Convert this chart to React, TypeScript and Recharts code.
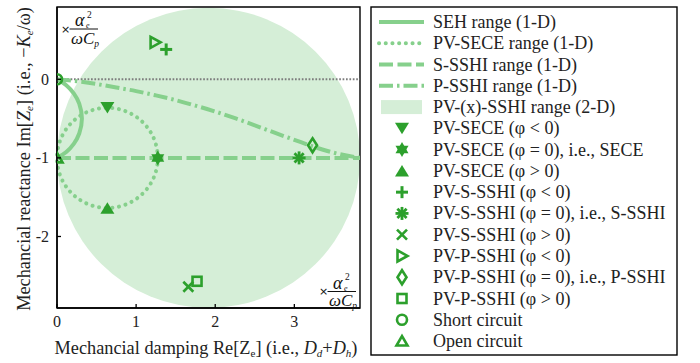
import React from 'react';
import { ComposedChart, XAxis, YAxis, Line, Scatter, ReferenceArea } from 'recharts';

const FONT = "'Liberation Serif','Times New Roman',serif";
const LINE_GREEN = '#86d08c';
const MARK_GREEN = '#2ca02c';
const FILL_GREEN = '#d5eed7';

const xTicks = [0, 1, 2, 3];
const yTicks = [0, -1, -2];
const xDomain: [number, number] = [0, 3.83];
const yDomain: [number, number] = [-2.91, 0.92];

// bounding boxes [x1, x2, y1, y2] of the circular ranges
const pvxBox = [0, 3.83, -2.91, 0.91];
const seceBox = [0, 1.274, -1.637, -0.363];
const frameBox = [0, 3.83, -2.91, 0.92];

const zeroLine = [{ x: 0, y: 0 }, { x: 3.83, y: 0 }];
const sehRange = [
  { x: 0, y: 0 }, { x: 0.117, y: -0.075 }, { x: 0.214, y: -0.182 }, { x: 0.281, y: -0.31 },
  { x: 0.315, y: -0.5 }, { x: 0.281, y: -0.69 }, { x: 0.214, y: -0.818 }, { x: 0.117, y: -0.925 },
  { x: 0, y: -1 },
];
const sSshiRange = [{ x: 0, y: -1 }, { x: 3.83, y: -1 }];
const pSshiRange = [
  { x: 0, y: 0 }, { x: 0.25, y: -0.025 }, { x: 0.5, y: -0.06 }, { x: 0.75, y: -0.105 },
  { x: 1.0, y: -0.15 }, { x: 1.25, y: -0.205 }, { x: 1.5, y: -0.265 }, { x: 1.75, y: -0.335 },
  { x: 2.0, y: -0.41 }, { x: 2.25, y: -0.495 }, { x: 2.5, y: -0.585 }, { x: 2.75, y: -0.68 },
  { x: 3.0, y: -0.77 }, { x: 3.25, y: -0.86 }, { x: 3.5, y: -0.935 }, { x: 3.83, y: -1 },
];

const pvSeceNeg = [{ x: 0.637, y: -0.36 }];
const pvSeceZero = [{ x: 1.274, y: -1 }];
const pvSecePos = [{ x: 0.637, y: -1.64 }];
const pvSSshiNeg = [{ x: 1.38, y: 0.38 }];
const pvSSshiZero = [{ x: 3.06, y: -1 }];
const pvSSshiPos = [{ x: 1.66, y: -2.64 }];
const pvPSshiNeg = [{ x: 1.24, y: 0.47 }];
const pvPSshiZero = [{ x: 3.23, y: -0.84 }];
const pvPSshiPos = [{ x: 1.77, y: -2.57 }];
const shortCircuit = [{ x: 0, y: 0 }];
const openCircuit = [{ x: 0, y: -1 }];

const legendLabels = [
  'SEH range (1-D)',
  'PV-SECE range (1-D)',
  'S-SSHI range (1-D)',
  'P-SSHI range (1-D)',
  'PV-(x)-SSHI range (2-D)',
  'PV-SECE (φ < 0)',
  'PV-SECE (φ = 0), i.e., SECE',
  'PV-SECE (φ > 0)',
  'PV-S-SSHI (φ < 0)',
  'PV-S-SSHI (φ = 0), i.e., S-SSHI',
  'PV-S-SSHI (φ > 0)',
  'PV-P-SSHI (φ < 0)',
  'PV-P-SSHI (φ = 0), i.e., P-SSHI',
  'PV-P-SSHI (φ > 0)',
  'Short circuit',
  'Open circuit',
];
const legendKinds = [
  'seh', 'sece', 'ssshi', 'psshi', 'area',
  'triDown', 'hexStar', 'triUp', 'plus', 'asterisk', 'cross',
  'triRight', 'diamond', 'square', 'circle', 'triUpOpen',
];

const LINE_STYLES: Record<string, { dash?: string; cap?: 'round' | 'butt'; width: number }> = {
  seh: { width: 4 },
  sece: { dash: '0.1 6.6', cap: 'round', width: 4 },
  ssshi: { dash: '14 4.5', width: 4 },
  psshi: { dash: '14 4 2.5 4', width: 4 },
};

function Marker({ kind, cx, cy }: { kind: string; cx: number; cy: number }) {
  const c = MARK_GREEN;
  const sw = 2.6;
  switch (kind) {
    case 'triDown':
      return <polygon points={`${cx - 7},${cy - 5.5} ${cx + 7},${cy - 5.5} ${cx},${cy + 6}`} fill={c} />;
    case 'triUp':
      return <polygon points={`${cx - 7},${cy + 5.5} ${cx + 7},${cy + 5.5} ${cx},${cy - 6}`} fill={c} />;
    case 'hexStar': {
      const r = 7.5;
      const pt = (a: number) => `${cx + r * Math.cos((a * Math.PI) / 180)},${cy + r * Math.sin((a * Math.PI) / 180)}`;
      return (
        <g fill={c}>
          <polygon points={`${pt(-90)} ${pt(30)} ${pt(150)}`} />
          <polygon points={`${pt(90)} ${pt(210)} ${pt(330)}`} />
        </g>
      );
    }
    case 'plus':
      return (
        <g stroke={c} strokeWidth={3}>
          <line x1={cx - 6} y1={cy} x2={cx + 6} y2={cy} />
          <line x1={cx} y1={cy - 6} x2={cx} y2={cy + 6} />
        </g>
      );
    case 'asterisk':
      return (
        <g stroke={c} strokeWidth={2.8}>
          <line x1={cx - 6.5} y1={cy} x2={cx + 6.5} y2={cy} />
          <line x1={cx} y1={cy - 6.5} x2={cx} y2={cy + 6.5} />
          <line x1={cx - 4.6} y1={cy - 4.6} x2={cx + 4.6} y2={cy + 4.6} />
          <line x1={cx - 4.6} y1={cy + 4.6} x2={cx + 4.6} y2={cy - 4.6} />
        </g>
      );
    case 'cross':
      return (
        <g stroke={c} strokeWidth={2.6}>
          <line x1={cx - 5} y1={cy - 5} x2={cx + 5} y2={cy + 5} />
          <line x1={cx - 5} y1={cy + 5} x2={cx + 5} y2={cy - 5} />
        </g>
      );
    case 'triRight':
      return <polygon points={`${cx - 4.5},${cy - 5.5} ${cx + 5.5},${cy} ${cx - 4.5},${cy + 5.5}`} fill="none" stroke={c} strokeWidth={sw} />;
    case 'diamond':
      return <polygon points={`${cx},${cy - 7} ${cx + 4.5},${cy} ${cx},${cy + 7} ${cx - 4.5},${cy}`} fill="none" stroke={c} strokeWidth={sw} />;
    case 'square':
      return <rect x={cx - 4.5} y={cy - 4.5} width={9} height={9} fill="none" stroke={c} strokeWidth={sw} />;
    case 'circle':
      return <circle cx={cx} cy={cy} r={5} fill="none" stroke={c} strokeWidth={sw} />;
    case 'triUpOpen':
      return <polygon points={`${cx - 5.5},${cy + 4.5} ${cx + 5.5},${cy + 4.5} ${cx},${cy - 5}`} fill="none" stroke={c} strokeWidth={sw} />;
    default:
      return null;
  }
}

const mk = (kind: string) => (p: any) => <Marker kind={kind} cx={p.cx} cy={p.cy} />;

const XTick = (props: any) => {
  const { x, y, payload } = props;
  return (
    <g>
      <line x1={x} y1={y} x2={x} y2={y - 4} stroke="#000" strokeWidth={1.3} />
      <text x={x} y={y + 19} textAnchor="middle" fontFamily={FONT} fontSize={16} fill="#222">{payload.value}</text>
    </g>
  );
};
const YTick = (props: any) => {
  const { x, y, payload } = props;
  return (
    <g>
      <line x1={x} y1={y} x2={x + 4} y2={y} stroke="#000" strokeWidth={1.3} />
      <text x={x - 8} y={y + 5.5} textAnchor="end" fontFamily={FONT} fontSize={16} fill="#222">{payload.value}</text>
    </g>
  );
};

const ellipseShape = (fill: string, stroke: string, style: any) => (p: any) => (
  <ellipse
    cx={p.x + p.width / 2}
    cy={p.y + p.height / 2}
    rx={Math.abs(p.width) / 2}
    ry={Math.abs(p.height) / 2}
    fill={fill}
    stroke={stroke}
    {...style}
  />
);

function Fraction({ x, y }: { x: number; y: number }) {
  // x: left of "×", y: fraction bar
  return (
    <g fontFamily={FONT} fill="#111">
      <text x={x} y={y + 3.5} fontSize={11} fontFamily="'DejaVu Sans',sans-serif">×</text>
      <line x1={x + 8.5} y1={y} x2={x + 37} y2={y} stroke="#111" strokeWidth={1} />
      <text x={x + 14} y={y - 3} fontSize={18} fontStyle="italic">α</text>
      <text x={x + 25} y={y - 1} fontSize={8} fontStyle="italic">e</text>
      <text x={x + 26} y={y - 11.5} fontSize={9.5}>2</text>
      <text x={x + 10} y={y + 14.5} fontSize={17} fontStyle="italic">
        ωC<tspan fontSize={9.5} dy={3}>p</tspan>
      </text>
    </g>
  );
}

function Legend() {
  const x0 = 371;
  const y0 = 7;
  const rowY = (i: number) => 22 + i * 21.27;
  return (
    <g>
      <rect x={x0} y={y0} width={306} height={348} fill="#fff" stroke="#000" strokeWidth={1.4} />
      {legendLabels.map((label, i) => {
        const kind = legendKinds[i];
        const cy = rowY(i);
        let sample: React.ReactNode = null;
        if (LINE_STYLES[kind]) {
          const s = LINE_STYLES[kind];
          sample = (
            <line x1={379} y1={cy} x2={424} y2={cy} stroke={LINE_GREEN} strokeWidth={s.width}
              strokeDasharray={s.dash} strokeLinecap={s.cap || 'butt'} />
          );
        } else if (kind === 'area') {
          sample = <rect x={381} y={cy - 7} width={41} height={14} fill={FILL_GREEN} />;
        } else {
          sample = <Marker kind={kind} cx={402} cy={cy} />;
        }
        return (
          <g key={label}>
            {sample}
            <text x={433} y={cy + 6} fontFamily={FONT} fontSize={18} fill="#222">{label}</text>
          </g>
        );
      })}
    </g>
  );
}

export default function App() {
  return (
    <div style={{ position: 'absolute', left: 0, top: 0, width: 700, height: 363, background: '#fff' }}>
      <ComposedChart width={700} height={363} margin={{ top: 7, right: 340, bottom: 25, left: 7 }}>
        <XAxis dataKey="x" type="number" domain={xDomain} ticks={xTicks} allowDataOverflow
          axisLine={{ stroke: '#000', strokeWidth: 1.4 }} tickLine={false} tickSize={0} tickMargin={0}
          tick={<XTick />} height={30} />
        <YAxis dataKey="y" type="number" domain={yDomain} ticks={yTicks} allowDataOverflow
          axisLine={{ stroke: '#000', strokeWidth: 1.4 }} tickLine={false} tickSize={0} tickMargin={0}
          tick={<YTick />} width={50} />
        <ReferenceArea x1={pvxBox[0]} x2={pvxBox[1]} y1={pvxBox[2]} y2={pvxBox[3]} ifOverflow="visible"
          shape={ellipseShape(FILL_GREEN, 'none', {})} />
        <Line data={zeroLine} dataKey="y" type="linear" stroke="#7d7d7d" strokeWidth={2}
          strokeDasharray="1.7 1.7" dot={false} isAnimationActive={false} />
        <ReferenceArea x1={seceBox[0]} x2={seceBox[1]} y1={seceBox[2]} y2={seceBox[3]} ifOverflow="visible"
          shape={ellipseShape('none', LINE_GREEN, { strokeWidth: 4, strokeDasharray: '0.1 6.6', strokeLinecap: 'round' })} />
        <Line data={sehRange} dataKey="y" type="natural" stroke={LINE_GREEN} strokeWidth={4}
          dot={false} isAnimationActive={false} />
        <Line data={sSshiRange} dataKey="y" type="linear" stroke={LINE_GREEN} strokeWidth={4}
          strokeDasharray="14 4.5" dot={false} isAnimationActive={false} />
        <Line data={pSshiRange} dataKey="y" type="monotone" stroke={LINE_GREEN} strokeWidth={4}
          strokeDasharray="14 4 2.5 4" dot={false} isAnimationActive={false} />
        <Scatter data={pvSeceNeg} shape={mk('triDown')} isAnimationActive={false} />
        <Scatter data={pvSeceZero} shape={mk('hexStar')} isAnimationActive={false} />
        <Scatter data={pvSecePos} shape={mk('triUp')} isAnimationActive={false} />
        <Scatter data={pvSSshiNeg} shape={mk('plus')} isAnimationActive={false} />
        <Scatter data={pvSSshiZero} shape={mk('asterisk')} isAnimationActive={false} />
        <Scatter data={pvSSshiPos} shape={mk('cross')} isAnimationActive={false} />
        <Scatter data={pvPSshiNeg} shape={mk('triRight')} isAnimationActive={false} />
        <Scatter data={pvPSshiZero} shape={mk('diamond')} isAnimationActive={false} />
        <Scatter data={pvPSshiPos} shape={mk('square')} isAnimationActive={false} />
        <Scatter data={shortCircuit} shape={mk('circle')} isAnimationActive={false} />
        <Scatter data={openCircuit} shape={mk('triUpOpen')} isAnimationActive={false} />
        <ReferenceArea x1={frameBox[0]} x2={frameBox[1]} y1={frameBox[2]} y2={frameBox[3]} ifOverflow="visible"
          fill="none" fillOpacity={0} stroke="#000" strokeWidth={1.4} strokeOpacity={1} />
      </ComposedChart>
      <svg width={700} height={363} style={{ position: 'absolute', left: 0, top: 0, pointerEvents: 'none' }}>
        <Fraction x={61} y={29} />
        <Fraction x={319} y={291.5} />
        <text x={206} y={354} textAnchor="middle" fontFamily={FONT} fontSize={18.3} fill="#222">
          Mechancial damping Re[Z<tspan fontSize={11} dy={3}>e</tspan><tspan dy={-3}>] (i.e., </tspan>
          <tspan fontStyle="italic">D</tspan><tspan fontSize={11} fontStyle="italic" dy={3}>d</tspan>
          <tspan dy={-3}>+</tspan><tspan fontStyle="italic">D</tspan>
          <tspan fontSize={11} fontStyle="italic" dy={3}>h</tspan><tspan dy={-3}>)</tspan>
        </text>
        <text transform="translate(30,159) rotate(-90)" x={0} y={0} textAnchor="middle" fontFamily={FONT} fontSize={18.3} fill="#222">
          Mechancial reactance Im[<tspan fontStyle="italic">Z</tspan><tspan fontSize={11} fontStyle="italic" dy={3}>e</tspan>
          <tspan dy={-3}>] (i.e., −</tspan><tspan fontStyle="italic">K</tspan>
          <tspan fontSize={11} fontStyle="italic" dy={3}>e</tspan><tspan dy={-3}>/ω)</tspan>
        </text>
        <Legend />
      </svg>
    </div>
  );
}
